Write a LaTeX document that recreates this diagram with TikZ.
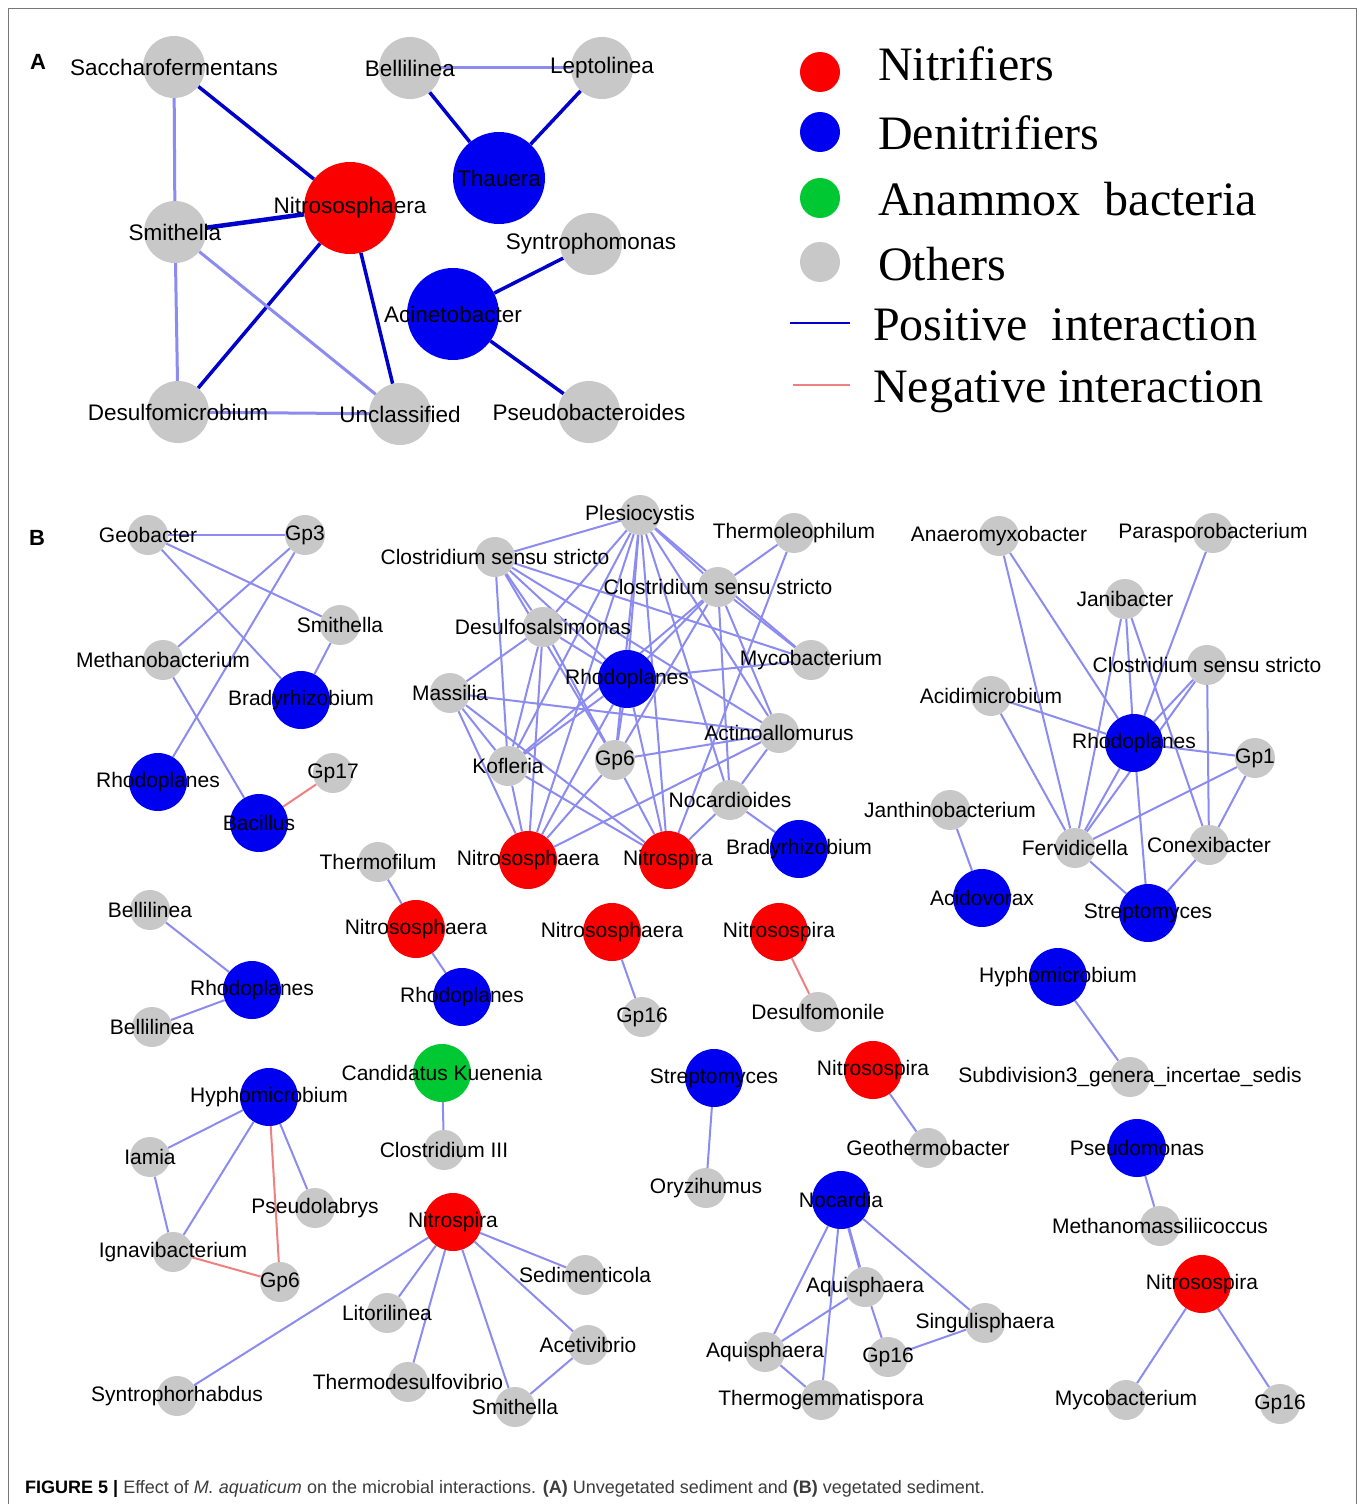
\documentclass[tikz,border=0pt]{standalone}
\usepackage{fontspec}
\setmainfont{Liberation Sans}
\newfontfamily\legfont{Liberation Serif}
\pgfdeclarelayer{bgl}
\pgfdeclarelayer{edges}
\pgfsetlayers{bgl,edges,main}
\definecolor{cgrey}{RGB}{200,200,200}
\definecolor{cblue}{RGB}{0,0,240}
\definecolor{cred}{RGB}{250,0,0}
\definecolor{cgreen}{RGB}{0,200,50}
\definecolor{cdark}{RGB}{0,0,205}
\definecolor{clight}{RGB}{140,140,240}
\definecolor{cneg}{RGB}{240,128,128}
\definecolor{cframe}{RGB}{120,120,120}
\definecolor{ccap}{RGB}{60,60,60}
\tikzset{
  nd/.style={circle, inner sep=0pt, draw=none},
  lblA/.style={font=\fontsize{22.5}{26}\selectfont, inner sep=0pt, text=black},
  lblB/.style={font=\fontsize{21}{24}\selectfont, inner sep=0pt, text=black},
  gA/.style={nd, fill=cgrey, minimum size=62pt, label={[lblA]center:#1}},
  bA/.style={nd, fill=cblue, minimum size=92pt, label={[lblA]center:#1}},
  rA/.style={nd, fill=cred, minimum size=92pt, label={[lblA]center:#1}},
  gB/.style={nd, fill=cgrey, minimum size=40pt, label={[lblB]center:#1}},
  bB/.style={nd, fill=cblue, minimum size=58pt, label={[lblB]center:#1}},
  rB/.style={nd, fill=cred, minimum size=58pt, label={[lblB]center:#1}},
  kB/.style={nd, fill=cgreen, minimum size=58pt, label={[lblB]center:#1}},
  ea/.style={draw=cdark, line width=3.5pt},
  la/.style={draw=clight, line width=3pt},
  eb/.style={draw=clight, line width=2pt},
  nb/.style={draw=cneg, line width=2pt},
  legtxt/.style={anchor=base west, font=\legfont\fontsize{48}{56}\selectfont, inner sep=0pt},
  plet/.style={font=\bfseries\fontsize{22}{26}\selectfont, inner sep=0pt},
}
\begin{document}
\begin{tikzpicture}[x=1pt,y=-1pt]
\useasboundingbox (0,0) rectangle (1358,1504);
\begin{pgfonlayer}{bgl}
\fill[white] (0,0) rectangle (1358,1504);
\draw[cframe, line width=1pt] (8.5,1504) -- (8.5,8.5) -- (1356,8.5) -- (1356,1504);
\end{pgfonlayer}

% panel letters
\node[plet] (letA) at (38,62) {A};
\node[plet] (letB) at (37,538) {B};

% ---------------- Panel A ----------------
\node[gA=Saccharofermentans] (aSac) at (174,67) {};
\node[gA=Bellilinea] (aBel) at (410,68) {};
\node[gA=Leptolinea] (aLep) at (602,68) {};
\node[bA=Thauera] (aTha) at (499,178) {};
\node[rA=Nitrososphaera] (aNit) at (350,208) {};
\node[gA=Smithella] (aSmi) at (175,232) {};
\node[gA=Syntrophomonas] (aSyn) at (591,244) {};
\node[bA=Acinetobacter] (aAci) at (453,314) {};
\node[gA=Desulfomicrobium] (aDes) at (178,412) {};
\node[gA=Unclassified] (aUnc) at (400,414) {};
\node[gA=Pseudobacteroides] (aPse) at (589,412) {};

\begin{pgfonlayer}{edges}
\foreach \p/\q in {aSac/aNit, aNit/aDes, aNit/aUnc, aBel/aTha, aLep/aTha, aSyn/aAci, aAci/aPse}
  \draw[ea] (\p) -- (\q);
\draw[ea, line width=4.5pt] (aSmi) -- (aNit);
\foreach \p/\q in {aSac/aSmi, aSmi/aDes, aSmi/aUnc, aDes/aUnc, aBel/aLep}
  \draw[la] (\p) -- (\q);
\end{pgfonlayer}

% ---------------- Legend ----------------
\node[nd, fill=cred, minimum size=40pt] (lgR) at (820,72) {};
\node[nd, fill=cblue, minimum size=40pt] (lgB) at (820,132) {};
\node[nd, fill=cgreen, minimum size=40pt] (lgG) at (820,198) {};
\node[nd, fill=cgrey, minimum size=40pt] (lgO) at (820,262) {};
\coordinate (lpa) at (790,323);
\coordinate (lpb) at (850,323);
\coordinate (lna) at (793,385);
\coordinate (lnb) at (850,385);
\draw[draw=cdark, line width=2.5pt] (lpa) -- (lpb);
\draw[draw=cneg, line width=2.5pt] (lna) -- (lnb);
\node[legtxt] (lt1) at (878,81) {Nitrifiers};
\node[legtxt] (lt2) at (878,149) {Denitrifiers};
\node[legtxt] (lt3) at (878,215) {Anammox~~bacteria};
\node[legtxt] (lt4) at (878,280) {Others};
\node[legtxt] (lt5) at (873,340) {Positive~~interaction};
\node[legtxt] (lt6) at (873,402) {Negative~interaction};

% ---------------- Panel B: top-left cluster ----------------
\node[gB=Geobacter] (tGeo) at (148,535) {};
\node[gB=Gp3] (tGp3) at (305,535) {};
\node[gB=Smithella] (tSmi) at (340,625) {};
\node[gB=Methanobacterium] (tMet) at (163,660) {};
\node[bB=Bradyrhizobium] (tBra) at (301,700) {};
\node[bB=Rhodoplanes] (tRho) at (158,782) {};
\node[gB=Gp17] (tGp17) at (333,773) {};
\node[bB=Bacillus] (tBac) at (259,823) {};

% ---------------- central cluster ----------------
\node[gB=Plesiocystis] (cPle) at (640,515) {};
\node[gB={Clostridium sensu stricto}] (cCs1) at (495,557) {};
\node[gB=Thermoleophilum] (cThl) at (794,533) {};
\node[gB={Clostridium sensu stricto}] (cCs2) at (718,587) {};
\node[gB=Desulfosalsimonas] (cDes) at (543,627) {};
\node[gB=Mycobacterium] (cMyc) at (811,660) {};
\node[bB=Rhodoplanes] (cRho) at (627,679) {};
\node[gB=Massilia] (cMas) at (450,693) {};
\node[gB=Actinoallomurus] (cAct) at (779,733) {};
\node[gB=Kofleria] (cKof) at (508,766) {};
\node[gB=Gp6] (cGp6) at (615,760) {};
\node[gB=Nocardioides] (cNoc) at (730,800) {};
\node[rB=Nitrososphaera] (cNso) at (528,860) {};
\node[rB=Nitrospira] (cNsp) at (668,860) {};
\node[bB=Bradyrhizobium] (cBra) at (799,849) {};

% ---------------- right cluster ----------------
\node[gB=Anaeromyxobacter] (rAna) at (999,536) {};
\node[gB=Parasporobacterium] (rPar) at (1213,533) {};
\node[gB=Janibacter] (rJan) at (1125,599) {};
\node[gB={Clostridium sensu stricto}] (rCss) at (1207,665) {};
\node[gB=Acidimicrobium] (rAci) at (991,696) {};
\node[bB=Rhodoplanes] (rRho) at (1134,743) {};
\node[gB=Gp1] (rGp1) at (1255,758) {};
\node[gB=Janthinobacterium] (rJth) at (950,810) {};
\node[gB=Fervidicella] (rFer) at (1075,848) {};
\node[gB=Conexibacter] (rCon) at (1209,845) {};
\node[bB=Acidovorax] (rAcv) at (982,898) {};
\node[bB=Streptomyces] (rStr) at (1148,913) {};

% ---------------- middle pairs ----------------
\node[gB=Bellilinea] (mBel1) at (150,910) {};
\node[bB=Rhodoplanes] (mRho1) at (252,990) {};
\node[gB=Bellilinea] (mBel2) at (152,1027) {};
\node[gB=Thermofilum] (mThf) at (378,862) {};
\node[rB=Nitrososphaera] (mNso1) at (416,929) {};
\node[bB=Rhodoplanes] (mRho2) at (462,997) {};
\node[rB=Nitrososphaera] (mNso2) at (612,932) {};
\node[gB=Gp16] (mGp16) at (642,1017) {};
\node[rB=Nitrosospira] (mNsp1) at (779,932) {};
\node[gB=Desulfomonile] (mDsm) at (818,1012) {};
\node[bB=Hyphomicrobium] (mHyp2) at (1058,977) {};
\node[gB=Subdivision3\_genera\_incertae\_sedis] (mSub) at (1130,1077) {};
\node[kB={Candidatus Kuenenia}] (mKue) at (442,1073) {};
\node[gB={Clostridium III}] (mCl3) at (444,1150) {};
\node[bB=Streptomyces] (mStr) at (714,1078) {};
\node[gB=Oryzihumus] (mOry) at (706,1188) {};
\node[rB=Nitrosospira] (mNsp2) at (873,1070) {};
\node[gB=Geothermobacter] (mGeo) at (928,1148) {};
\node[bB=Pseudomonas] (mPse) at (1137,1148) {};
\node[gB=Methanomassiliicoccus] (mMmc) at (1160,1226) {};

% ---------------- bottom-left ----------------
\node[bB=Hyphomicrobium] (lHyp) at (269,1097) {};
\node[gB=Iamia] (lIam) at (150,1157) {};
\node[gB=Pseudolabrys] (lPsl) at (315,1208) {};
\node[gB=Ignavibacterium] (lIgn) at (173,1252) {};
\node[gB=Gp6] (lGp6) at (280,1282) {};
\node[rB=Nitrospira] (lNsp) at (453,1222) {};
\node[gB=Sedimenticola] (lSed) at (585,1275) {};
\node[gB=Litorilinea] (lLit) at (387,1313) {};
\node[gB=Acetivibrio] (lAce) at (588,1345) {};
\node[gB=Syntrophorhabdus] (lSyn) at (177,1396) {};
\node[gB=Thermodesulfovibrio] (lThd) at (408,1382) {};
\node[gB=Smithella] (lSmi) at (515,1407) {};

% ---------------- bottom-middle / right ----------------
\node[bB=Nocardia] (nNoc) at (841,1200) {};
\node[gB=Aquisphaera] (nAq1) at (865,1287) {};
\node[gB=Aquisphaera] (nAq2) at (765,1352) {};
\node[gB=Gp16] (nGp16) at (888,1357) {};
\node[gB=Singulisphaera] (nSin) at (985,1323) {};
\node[gB=Thermogemmatispora] (nThg) at (821,1400) {};
\node[rB=Nitrosospira] (bNsp) at (1202,1284) {};
\node[gB=Mycobacterium] (bMyc) at (1126,1400) {};
\node[gB=Gp16] (bGp16) at (1280,1404) {};

\begin{pgfonlayer}{edges}
% top-left
\foreach \p/\q in {tGeo/tGp3, tGeo/tSmi, tGeo/tBra, tGp3/tMet, tGp3/tRho, tSmi/tBra, tMet/tBac}
  \draw[eb] (\p) -- (\q);
\draw[nb] (tBac) -- (tGp17);
% central
\foreach \p/\q in {cPle/cCs1, cPle/cDes, cPle/cKof, cPle/cNso, cPle/cRho, cPle/cGp6, cPle/cNsp, cPle/cNoc, cPle/cAct, cPle/cCs2, cPle/cMyc,
  cCs1/cDes, cCs1/cRho, cCs1/cKof, cCs1/cGp6, cCs1/cMyc, cCs1/cAct,
  cCs2/cThl, cCs2/cMyc, cCs2/cAct, cCs2/cNoc, cCs2/cRho, cCs2/cGp6, cCs2/cKof,
  cThl/cNsp,
  cDes/cMas, cDes/cKof, cDes/cGp6, cDes/cRho, cDes/cNso,
  cMas/cAct, cMas/cKof, cMas/cNso, cMas/cNsp,
  cRho/cMyc, cRho/cGp6, cRho/cNsp, cRho/cNso, cRho/cKof,
  cGp6/cAct, cGp6/cNso, cGp6/cNsp,
  cAct/cNso, cAct/cNoc,
  cNoc/cBra, cNoc/cNsp,
  cKof/cNso, cKof/cNsp}
  \draw[eb] (\p) -- (\q);
% right
\foreach \p/\q in {rAna/rFer, rAna/rRho, rPar/rRho, rJan/rRho, rJan/rFer, rJan/rCon, rCss/rRho, rCss/rFer, rCss/rCon,
  rAci/rRho, rAci/rFer, rRho/rGp1, rRho/rFer, rRho/rStr, rGp1/rFer, rGp1/rCon, rFer/rStr, rCon/rStr, rJth/rAcv}
  \draw[eb] (\p) -- (\q);
% middle
\foreach \p/\q in {mBel1/mRho1, mBel2/mRho1, mThf/mNso1, mNso1/mRho2, mNso2/mGp16, mHyp2/mSub, mKue/mCl3, mStr/mOry, mNsp2/mGeo, mPse/mMmc}
  \draw[eb] (\p) -- (\q);
\draw[nb] (mNsp1) -- (mDsm);
% bottom-left
\foreach \p/\q in {lHyp/lIam, lHyp/lIgn, lHyp/lPsl, lIam/lIgn,
  lNsp/lSyn, lNsp/lLit, lNsp/lThd, lNsp/lSmi, lNsp/lAce, lNsp/lSed, lAce/lSmi}
  \draw[eb] (\p) -- (\q);
\draw[nb] (lHyp) -- (lGp6);
\draw[nb] (lIgn) -- (lGp6);
% bottom-middle / right
\foreach \p/\q in {nNoc/nAq2, nNoc/nThg, nNoc/nSin, nAq1/nAq2, nAq1/nGp16, nGp16/nSin, nAq2/nThg, bNsp/bMyc, bNsp/bGp16}
  \draw[eb] (\p) -- (\q);
\draw[eb, line width=3pt] (nNoc) -- (nAq1);
\end{pgfonlayer}

% caption
\node[anchor=base west, inner sep=0pt, font=\fontsize{18}{21}\selectfont, text=ccap] (cap) at (25,1493)
  {\textcolor{black}{\textbf{FIGURE 5 |}} Effect of \textit{M. aquaticum} on the microbial interactions. \textbf{(A)} Unvegetated sediment and \textbf{(B)} vegetated sediment.};
\end{tikzpicture}
\end{document}
